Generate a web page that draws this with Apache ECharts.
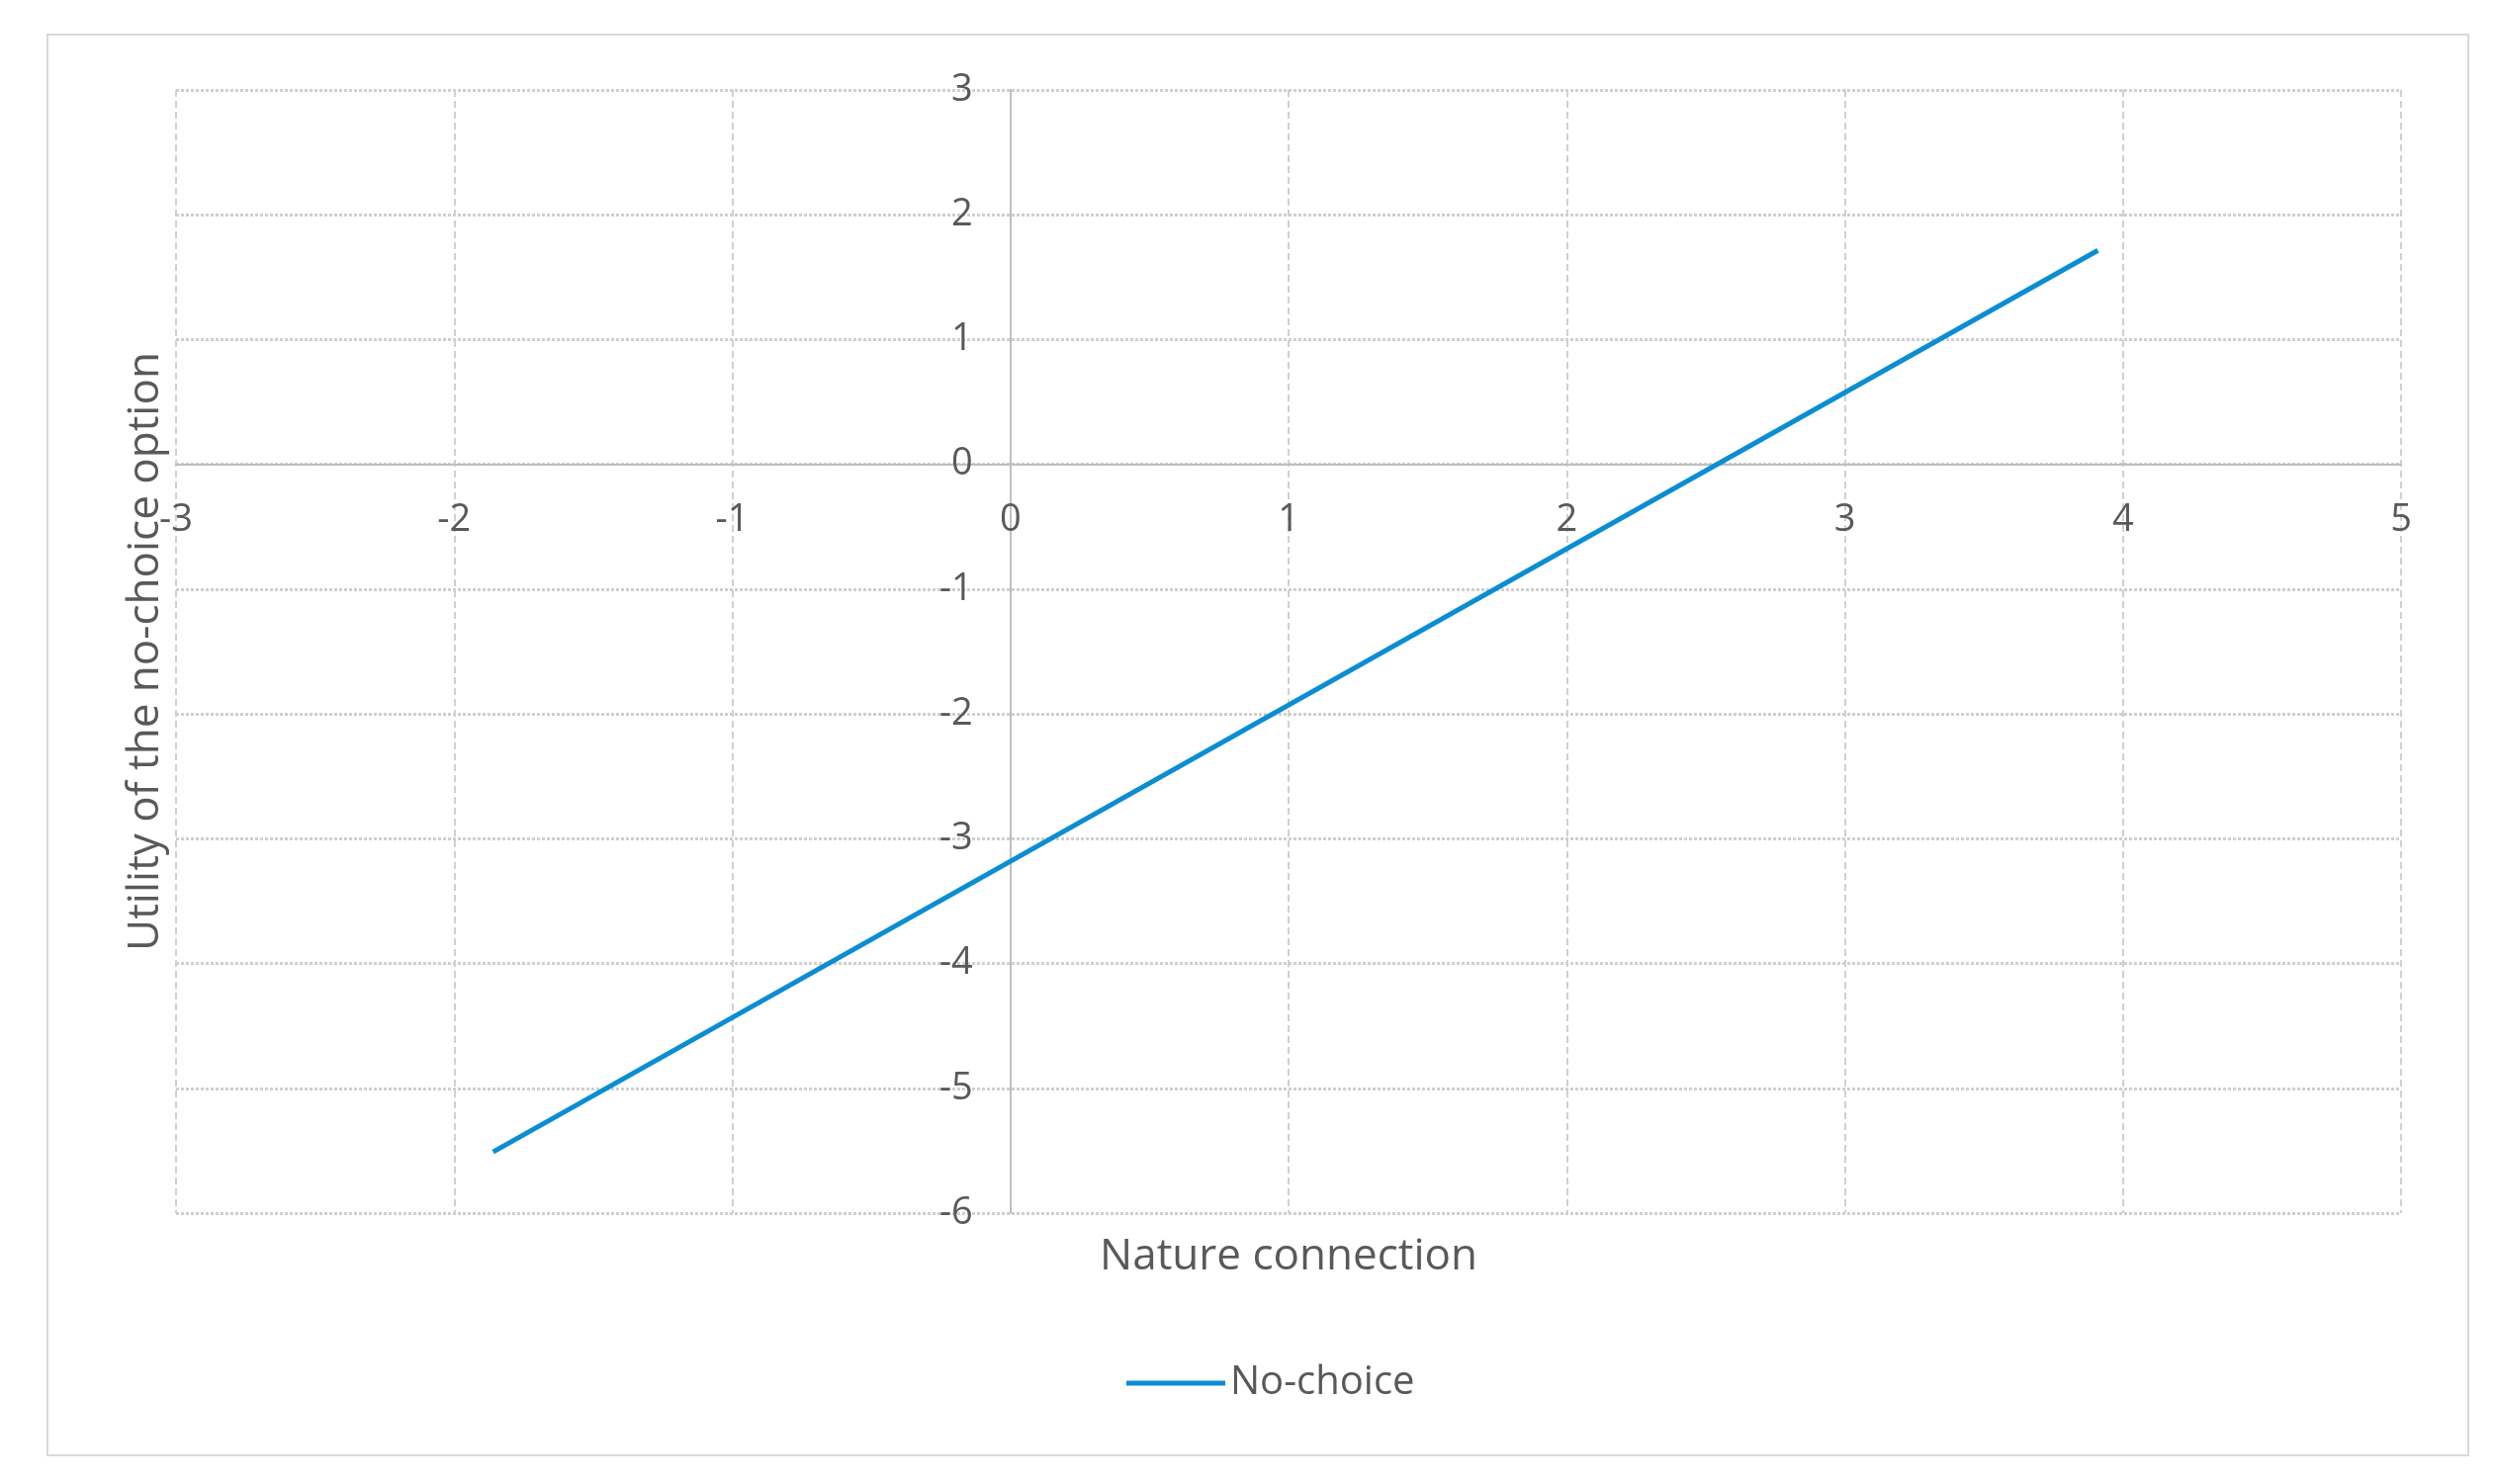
<!DOCTYPE html>
<html>
<head>
<meta charset="utf-8">
<script src="https://cdn.jsdelivr.net/npm/echarts@6/dist/echarts.min.js"></script>
<style>
html,body{margin:0;padding:0;background:#fff;}
#chart{width:2525px;height:1501px;}
</style>
</head>
<body>
<div id="chart"></div>
<script>
// ---- data ----
const seriesName = 'No-choice';
const xName = 'Nature connection';
const yName = 'Utility of the no-choice option';
const natureConnection = [-1.86, 3.91];
const utilityNoChoice = [-5.51, 1.715];
const xTicks = {min: -3, max: 5, interval: 1};
const yTicks = {min: -6, max: 3, interval: 1};

const points = natureConnection.map((x, i) => [x, utilityNoChoice[i]]);

const labelColor = '#595959';
const font = '"Open Sans", "Noto Sans", sans-serif';

// grid geometry (layout)
const G = {left: 178, right: 97, top: 91, bottom: 274};
const W = 2525, H = 1501;
const gridW = W - G.left - G.right;
const gridH = H - G.top - G.bottom;
// move axes so they cross at the zero of the other axis
const xAxisOffset = -gridH * (0 - yTicks.min) / (yTicks.max - yTicks.min);
const yAxisOffset = -gridW * (0 - xTicks.min) / (xTicks.max - xTicks.min);

const chart = echarts.init(document.getElementById('chart'), null, {renderer: 'canvas'});
chart.setOption({
  backgroundColor: '#ffffff',
  animation: false,
  graphic: [{
    type: 'rect',
    shape: {x: 48, y: 35, width: 2448, height: 1437},
    style: {fill: 'none', stroke: '#d9d9d9', lineWidth: 2},
    z: -10
  }],
  grid: {left: G.left, right: G.right, top: G.top, bottom: G.bottom, containLabel: false, outerBoundsMode: 'none'},
  xAxis: {
    type: 'value',
    position: 'bottom',
    offset: xAxisOffset,
    min: xTicks.min, max: xTicks.max, interval: xTicks.interval,
    name: xName,
    nameLocation: 'middle',
    nameGap: 780,
    nameTextStyle: {color: labelColor, fontSize: 44, fontFamily: font},
    axisLine: {show: true, onZero: false, lineStyle: {color: '#bfbfbf', width: 2}},
    axisTick: {show: false},
    axisLabel: {color: labelColor, fontSize: 38, fontFamily: font, margin: 38},
    splitLine: {show: true, lineStyle: {color: '#d0d0d0', width: 2, type: [7, 4]}}
  },
  yAxis: {
    type: 'value',
    position: 'left',
    offset: yAxisOffset,
    min: yTicks.min, max: yTicks.max, interval: yTicks.interval,
    name: yName,
    nameLocation: 'middle',
    nameGap: 852,
    nameRotate: 90,
    nameTextStyle: {color: labelColor, fontSize: 44, fontFamily: font},
    axisLine: {show: true, onZero: false, lineStyle: {color: '#bfbfbf', width: 2}},
    axisTick: {show: false},
    axisLabel: {color: labelColor, fontSize: 38, fontFamily: font, margin: 38},
    splitLine: {show: true, lineStyle: {color: '#cfcfcf', width: 3, type: [3, 2]}}
  },
  legend: {
    show: true,
    left: 1134,
    top: 1374,
    itemWidth: 100,
    itemHeight: 5,
    textStyle: {color: labelColor, fontSize: 40, fontFamily: font},
    data: [{name: seriesName, icon: 'rect'}]
  },
  series: [{
    name: seriesName,
    type: 'line',
    data: points,
    symbol: 'none',
    showSymbol: false,
    lineStyle: {color: '#0b8dd3', width: 5},
    itemStyle: {color: '#0b8dd3'}
  }]
});
</script>
</body>
</html>
